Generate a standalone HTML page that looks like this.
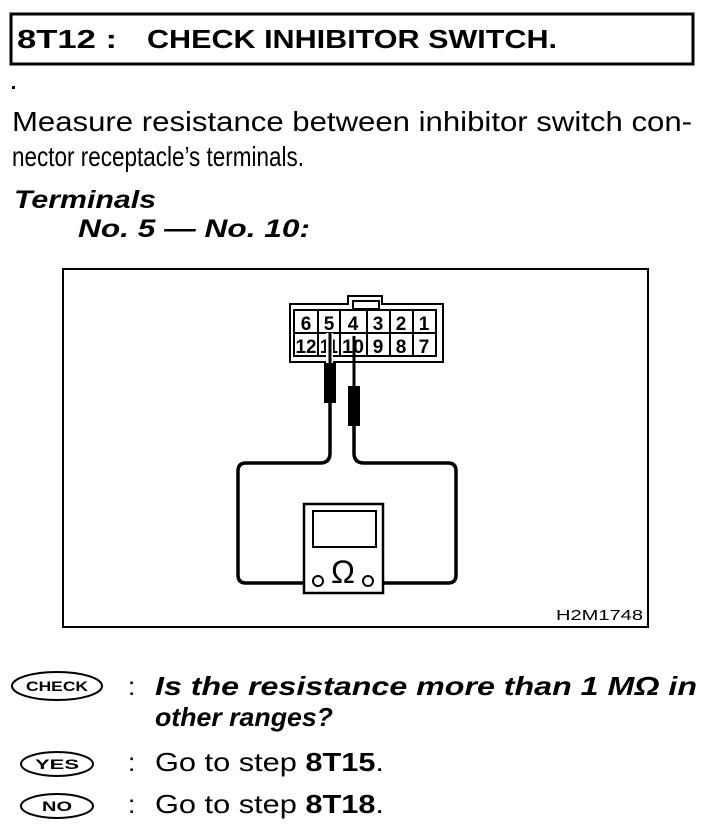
<!DOCTYPE html>
<html><head><meta charset="utf-8"><style>
html,body{margin:0;padding:0;background:#fff;}
svg{display:block;}
text{font-family:"Liberation Sans",sans-serif;fill:#000;}
</style></head><body>
<svg width="704" height="840" viewBox="0 0 704 840" xmlns="http://www.w3.org/2000/svg">
<rect x="11" y="14" width="682" height="50" fill="none" stroke="#000" stroke-width="3"/>
<text x="17" y="48" font-size="26" font-weight="bold" textLength="100" lengthAdjust="spacingAndGlyphs">8T12 :</text>
<text x="147" y="48" font-size="26" font-weight="bold" textLength="410" lengthAdjust="spacingAndGlyphs">CHECK INHIBITOR SWITCH.</text>
<rect x="12" y="86" width="3" height="3" fill="#000"/>
<text x="12" y="131" font-size="28" textLength="680" lengthAdjust="spacingAndGlyphs">Measure resistance between inhibitor switch con-</text>
<text x="12" y="166" font-size="28" textLength="292" lengthAdjust="spacingAndGlyphs">nector receptacle’s terminals.</text>
<text x="14" y="208" font-size="25" font-weight="bold" font-style="italic" textLength="142" lengthAdjust="spacingAndGlyphs">Terminals</text>
<text x="78" y="237" font-size="25" font-weight="bold" font-style="italic" textLength="232" lengthAdjust="spacingAndGlyphs">No. 5 — No. 10:</text>

<rect x="63" y="269" width="585" height="358" fill="none" stroke="#000" stroke-width="2"/>
<text x="556" y="620" font-size="15" textLength="87" lengthAdjust="spacingAndGlyphs">H2M1748</text>

<g fill="none" stroke="#000" stroke-width="2">
<path d="M290 304 H348 V296 H382 V304 H443 V362 H290 Z"/>
<rect x="353" y="301" width="26" height="8"/>
<rect x="294" y="310" width="142" height="46"/>
<line x1="294" y1="333" x2="436" y2="333"/>
<line x1="318" y1="310" x2="318" y2="356"/><line x1="340" y1="310" x2="340" y2="356"/>
<line x1="367" y1="310" x2="367" y2="356"/><line x1="390" y1="310" x2="390" y2="356"/>
<line x1="413" y1="310" x2="413" y2="356"/>
</g>
<g font-size="19" font-weight="bold" text-anchor="middle">
<text x="306" y="330">6</text><text x="329" y="330">5</text><text x="353" y="330">4</text><text x="378" y="330">3</text><text x="401" y="330">2</text><text x="424" y="330">1</text>
<text x="306" y="353" textLength="21" lengthAdjust="spacingAndGlyphs">12</text><text x="329" y="353" textLength="18" lengthAdjust="spacingAndGlyphs">11</text><text x="353" y="353" textLength="22" lengthAdjust="spacingAndGlyphs">10</text><text x="378" y="353">9</text><text x="401" y="353">8</text><text x="424" y="353">7</text>
</g>
<rect x="326" y="333" width="7" height="30" fill="#fff"/>
<line x1="330" y1="333" x2="330" y2="365" stroke="#000" stroke-width="3"/>
<rect x="324" y="363" width="12" height="40" fill="#000"/>
<line x1="354" y1="336" x2="354" y2="388" stroke="#000" stroke-width="3"/>
<rect x="348" y="386" width="12" height="40" fill="#000"/>
<g fill="none" stroke="#000" stroke-width="3.5">
<path d="M330 403 V453 Q330 463 320 463 H246 Q238 463 238 471 V575 Q238 583 246 583 H313"/>
<path d="M354 426 V453 Q354 463 364 463 H448 Q456 463 456 471 V575 Q456 583 448 583 H373"/>
</g>
<rect x="304" y="504" width="79" height="89" fill="#fff" stroke="#000" stroke-width="2.5"/>
<rect x="313" y="511" width="63" height="36" fill="none" stroke="#000" stroke-width="2"/>
<text x="343" y="583" font-size="32" text-anchor="middle">Ω</text>
<circle cx="318" cy="581" r="5" fill="#fff" stroke="#000" stroke-width="2"/>
<circle cx="368" cy="581" r="5" fill="#fff" stroke="#000" stroke-width="2"/>

<ellipse cx="57" cy="686" rx="45" ry="14" fill="none" stroke="#000" stroke-width="2"/>
<text x="57" y="691" font-size="14" font-weight="bold" text-anchor="middle" textLength="62" lengthAdjust="spacingAndGlyphs">CHECK</text>
<text x="128" y="695" font-size="26">:</text>
<text x="155" y="695" font-size="26" font-weight="bold" font-style="italic" textLength="542" lengthAdjust="spacingAndGlyphs">Is the resistance more than 1 MΩ in</text>
<text x="155" y="726" font-size="26" font-weight="bold" font-style="italic" textLength="178" lengthAdjust="spacingAndGlyphs">other ranges?</text>
<ellipse cx="57" cy="764" rx="36" ry="12" fill="none" stroke="#000" stroke-width="2"/>
<text x="57" y="769" font-size="14" font-weight="bold" text-anchor="middle" textLength="44" lengthAdjust="spacingAndGlyphs">YES</text>
<text x="128" y="771" font-size="26">:</text>
<text x="155" y="771" font-size="26" textLength="229" lengthAdjust="spacingAndGlyphs">Go to step <tspan font-weight="bold">8T15</tspan>.</text>
<ellipse cx="57" cy="806" rx="36" ry="12" fill="none" stroke="#000" stroke-width="2"/>
<text x="57" y="811" font-size="14" font-weight="bold" text-anchor="middle" textLength="30" lengthAdjust="spacingAndGlyphs">NO</text>
<text x="128" y="813" font-size="26">:</text>
<text x="155" y="813" font-size="26" textLength="229" lengthAdjust="spacingAndGlyphs">Go to step <tspan font-weight="bold">8T18</tspan>.</text>
</svg>
</body></html>
